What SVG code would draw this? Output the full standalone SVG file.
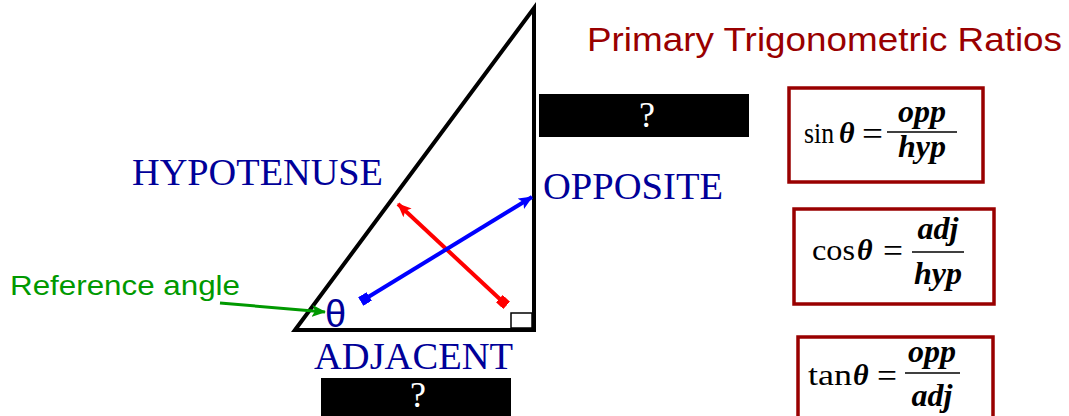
<svg xmlns="http://www.w3.org/2000/svg" width="1069" height="416" viewBox="0 0 1069 416">
<style>
.lbl{font-family:"Liberation Serif","Times New Roman",serif;font-size:38px;fill:#000099}
.q{font-family:"Liberation Serif",serif;font-size:36px;fill:#ffffff;text-anchor:middle}
.box{fill:#ffffff;stroke:#990000;stroke-width:3.5}
.fn{font-family:"Liberation Serif",serif;font-size:29px;fill:#000}
.eq{font-family:"Liberation Serif",serif;font-size:34px;fill:#000}
.fv{font-family:"Liberation Serif",serif;font-size:32px;font-style:italic;font-weight:bold;fill:#000;text-anchor:middle}
.th{font-family:"Liberation Serif",serif;font-size:30px;font-style:italic;font-weight:bold;fill:#000}
.bar{stroke:#000;stroke-width:1.5}
</style>
<defs>
<marker id="arrR" viewBox="0 0 14 12" refX="13" refY="6" markerWidth="14" markerHeight="12" markerUnits="userSpaceOnUse" orient="auto"><path d="M0,0 L14,6 L0,12 L3,6 z" fill="#ff0000"/></marker>
<marker id="sqR" viewBox="0 0 10 10" refX="5" refY="5" markerWidth="10" markerHeight="10" markerUnits="userSpaceOnUse" orient="auto"><rect width="10" height="10" fill="#ff0000"/></marker>
<marker id="arrB" viewBox="0 0 14 12" refX="13" refY="6" markerWidth="14" markerHeight="12" markerUnits="userSpaceOnUse" orient="auto"><path d="M0,0 L14,6 L0,12 L3,6 z" fill="#0000ff"/></marker>
<marker id="sqB" viewBox="0 0 10 10" refX="5" refY="5" markerWidth="10" markerHeight="10" markerUnits="userSpaceOnUse" orient="auto"><rect width="10" height="10" fill="#0000ff"/></marker>
<marker id="arrG" viewBox="0 0 14 12" refX="13" refY="6" markerWidth="14" markerHeight="12" markerUnits="userSpaceOnUse" orient="auto"><path d="M0,0 L14,6 L0,12 L3,6 z" fill="#009900"/></marker>
</defs>
<rect width="1069" height="416" fill="#ffffff"/>

<g id="triangle">
<polygon points="295,330 534,8 534,330" fill="none" stroke="#000" stroke-width="4" stroke-linejoin="miter"/>
<rect x="511" y="313" width="21" height="15" fill="none" stroke="#000" stroke-width="1.5"/>
</g>

<g id="title">
<text x="587" y="51" font-family="'Comic Sans MS','Liberation Sans',sans-serif" font-size="33" fill="#990000" textLength="475" lengthAdjust="spacingAndGlyphs">Primary Trigonometric Ratios</text>
</g>

<g id="hypotenuse"><text class="lbl" x="132" y="185" textLength="251" lengthAdjust="spacingAndGlyphs">HYPOTENUSE</text></g>
<g id="opposite"><text class="lbl" x="543" y="199" textLength="180" lengthAdjust="spacingAndGlyphs">OPPOSITE</text></g>
<g id="adjacent"><text class="lbl" x="314" y="369" textLength="199" lengthAdjust="spacingAndGlyphs">ADJACENT</text></g>

<g id="box-opp">
<rect x="539" y="94" width="210" height="43" fill="#000"/>
<text class="q" x="647" y="127">?</text>
</g>
<g id="box-adj">
<rect x="321" y="378" width="190" height="38" fill="#000"/>
<text class="q" x="418" y="407">?</text>
</g>

<g id="theta"><text x="325" y="327" font-family="'Liberation Sans',sans-serif" font-size="38" fill="#000099">θ</text></g>

<g id="ref-label"><text x="10" y="295" font-family="'Comic Sans MS','Liberation Sans',sans-serif" font-size="27" fill="#009900" textLength="230" lengthAdjust="spacingAndGlyphs">Reference angle</text></g>

<g id="connectors">
<line x1="503" y1="302" x2="398" y2="204" stroke="#ff0000" stroke-width="4" marker-start="url(#sqR)" marker-end="url(#arrR)"/>
<line x1="365" y1="299" x2="532" y2="197" stroke="#0000ff" stroke-width="4" marker-start="url(#sqB)" marker-end="url(#arrB)"/>
<line x1="220" y1="303" x2="325" y2="312" stroke="#009900" stroke-width="3" marker-end="url(#arrG)"/>
</g>

<g id="sin">
<rect class="box" x="789" y="88" width="194" height="94"/>
<text class="fn" x="804" y="143" textLength="30" lengthAdjust="spacingAndGlyphs">sin</text>
<text class="th" x="839" y="143">θ</text>
<text class="eq" x="862" y="145" textLength="21" lengthAdjust="spacingAndGlyphs">=</text>
<line class="bar" x1="887" y1="132" x2="957" y2="132"/>
<text class="fv" x="922" y="122">opp</text>
<text class="fv" x="922" y="157">hyp</text>
</g>

<g id="cos">
<rect class="box" x="794" y="209" width="200" height="95"/>
<text class="fn" x="812" y="260" textLength="43" lengthAdjust="spacingAndGlyphs">cos</text>
<text class="th" x="857" y="260">θ</text>
<text class="eq" x="883" y="262" textLength="20" lengthAdjust="spacingAndGlyphs">=</text>
<line class="bar" x1="912" y1="252" x2="964" y2="252"/>
<text class="fv" x="938" y="239">adj</text>
<text class="fv" x="938" y="284">hyp</text>
</g>

<g id="tan">
<rect class="box" x="798" y="337" width="195" height="90"/>
<text class="fn" x="808" y="385" textLength="44" lengthAdjust="spacingAndGlyphs">tan</text>
<text class="th" x="853" y="385">θ</text>
<text class="eq" x="877" y="387" textLength="20" lengthAdjust="spacingAndGlyphs">=</text>
<line class="bar" x1="905" y1="373" x2="960" y2="373"/>
<text class="fv" x="932" y="362">opp</text>
<text class="fv" x="932" y="406">adj</text>
</g>
</svg>
